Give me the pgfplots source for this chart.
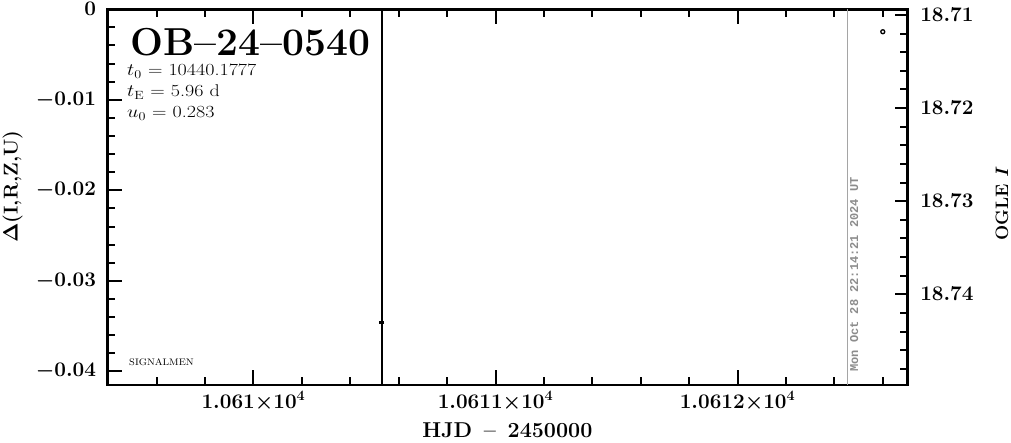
\documentclass[border=0pt]{standalone}
\usepackage{pgfplots}
\pgfplotsset{compat=1.18}
\usepackage{fontspec}
\newfontfamily\monofont{Liberation Mono}
\definecolor{stampgray}{RGB}{140,140,140}
\definecolor{linegray}{RGB}{165,165,165}
\begin{document}
\begin{tikzpicture}[x=1pt,y=1pt]
\useasboundingbox (0,0) rectangle (1011,442);
\begin{axis}[
  at={(107.5pt,57pt)}, anchor=south west,
  width=800.2pt, height=375.7pt, scale only axis,
  xmin=10609.397, xmax=10612.703,
  ymin=-0.04151, ymax=0,
  scaled x ticks=false, scaled y ticks=false,
  xtick={10610,10611,10612},
  xticklabels={$1.061{\times}10^{4}$,$1.0611{\times}10^{4}$,$1.0612{\times}10^{4}$},
  minor xtick={10609.6,10609.8,10610.2,10610.4,10610.6,10610.8,10611.2,10611.4,10611.6,10611.8,10612.2,10612.4,10612.6},
  ytick={-0.04,-0.03,-0.02,-0.01,0},
  yticklabels={$-0.04$,$-0.03$,$-0.02$,$-0.01$,$0$},
  minor ytick={-0.038,-0.036,-0.034,-0.032,-0.028,-0.026,-0.024,-0.022,-0.018,-0.016,-0.014,-0.012,-0.008,-0.006,-0.004,-0.002},
  ytick pos=left, xtick pos=both,
  tick align=inside,
  major tick length=15pt, minor tick length=8pt,
  tick style={line width=2pt,black},
  axis line style={line width=2.6pt},
  tick label style={font=\fontsize{22.5}{22.5}\selectfont\boldmath},
  xticklabel style={yshift=-3pt},
  yticklabel style={xshift=-8pt},
  xlabel={HJD \,--\, 2450000},
  ylabel={{\boldmath$\Delta$}(I,R,Z,U)},
  label style={font=\fontsize{20}{20}\selectfont\bfseries},
  xlabel style={at={(axis description cs:0.4997,-0.12)}, anchor=center, font=\fontsize{21.5}{21.5}\selectfont\bfseries},
  ylabel style={at={(axis description cs:-0.1187,0.528)}, anchor=center},
  clip=true,
]
\addplot[black, line width=2.4pt, mark=-, mark size=2.5pt,
  error bars/.cd, y dir=both, y explicit, error mark=none,
  error bar style={line width=2.4pt}]
  coordinates {(10610.530,-0.03459) +- (0,0.05)};
\addplot[linegray, line width=1pt] coordinates {(10612.454,-0.05) (10612.454,0.01)};
\node[anchor=base west, inner sep=0, font=\fontsize{39}{39}\selectfont\bfseries] at (rel axis cs:0.0281,0.878) {OB--24--0540};
\node[anchor=base west, inner sep=0, font=\fontsize{17}{17}\selectfont] at (rel axis cs:0.0244,0.8225) {\scalebox{1.18}[1]{$t_{0}$ = 10440.1777}};
\node[anchor=base west, inner sep=0, font=\fontsize{17}{17}\selectfont] at (rel axis cs:0.0244,0.7666) {\scalebox{1.18}[1]{$t_{\mathrm{E}}$ = 5.96 d}};
\node[anchor=base west, inner sep=0, font=\fontsize{17}{17}\selectfont] at (rel axis cs:0.0244,0.7107) {\scalebox{1.18}[1]{$u_{0}$ = 0.283}};
\node[anchor=base west, inner sep=0, font=\fontsize{9.5}{9.5}\selectfont] at (rel axis cs:0.0269,0.0506) {\scalebox{1.1}[1]{SIGNALMEN}};
\node[anchor=north west, rotate=90, inner sep=0, text=stampgray, font=\fontsize{12}{12}\monofont\bfseries] at (rel axis cs:0.9279,0.0346) {Mon Oct 28 22:14:21 2024 UT};
\end{axis}
\begin{axis}[
  at={(107.5pt,57pt)}, anchor=south west,
  width=800.2pt, height=375.7pt, scale only axis,
  xmin=10609.397, xmax=10612.703,
  ymin=18.70939, ymax=18.74974,
  y dir=reverse,
  hide x axis,
  axis y line*=right,
  ytick={18.71,18.72,18.73,18.74},
  yticklabels={$18.71$,$18.72$,$18.73$,$18.74$},
  minor ytick={18.712,18.714,18.716,18.718,18.722,18.724,18.726,18.728,18.732,18.734,18.736,18.738,18.742,18.744,18.746,18.748},
  tick align=inside,
  major tick length=13pt, minor tick length=8pt,
  tick style={line width=2pt,black},
  axis line style={line width=2.6pt},
  tick label style={font=\fontsize{22}{22}\selectfont\boldmath},
  yticklabel style={xshift=9pt},
  ylabel={OGLE \textit{I}},
  label style={font=\fontsize{18}{18}\selectfont\bfseries},
  ylabel style={at={(axis description cs:1.1178,0.482)}, anchor=center},
]
\addplot[only marks, mark=o, mark size=2pt, line width=1.3pt, black] coordinates {(10612.6,18.7118)};
\end{axis}
\end{tikzpicture}
\end{document}
